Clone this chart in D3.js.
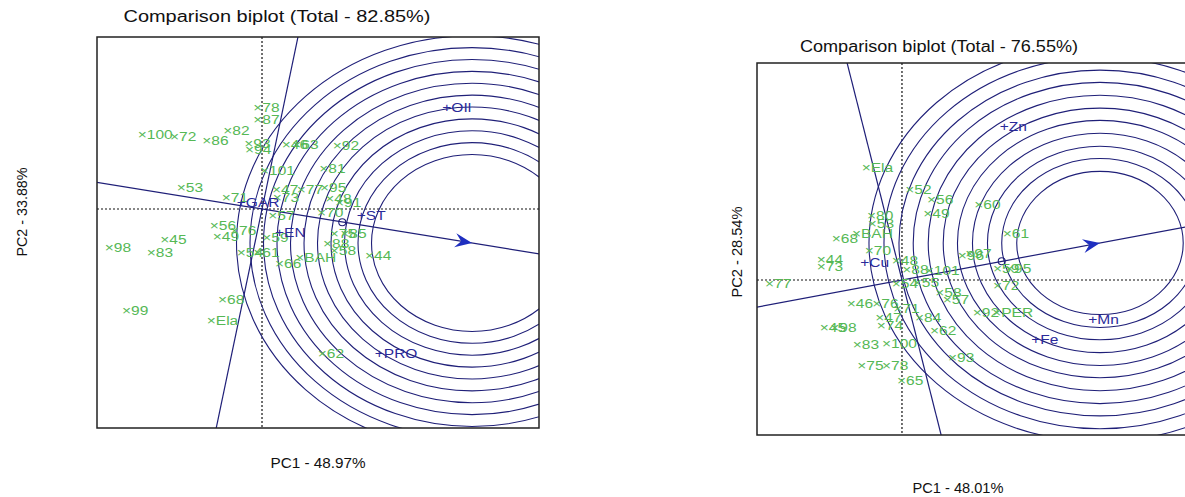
<!DOCTYPE html>
<html>
<head>
<meta charset="utf-8">
<style>
body { margin: 0; background: #fff; }
svg text { font-family: "Liberation Sans", Arial, sans-serif; }
.gen { fill: #55b855; font-size: 13.5px; }
.env { fill: #2a2a9a; font-size: 13.5px; }
.ring { fill: none; stroke: #1f1f78; stroke-width: 1.1; }
.axisline { stroke: #1f1f78; stroke-width: 1.2; }
.dot { stroke: #111; stroke-width: 1.2; stroke-dasharray: 2,2; }
.frame { fill: none; stroke: #222; stroke-width: 1.5; }
.title { font-size: 16px; fill: #111; }
.lab { font-size: 15px; fill: #111; }
</style>
</head>
<body>
<svg width="1185" height="497"></svg>
<script src="https://d3js.org/d3.v7.min.js"></script>
<script>
// ---- left biplot: genotypes [label, PC1, PC2]
var leftGenotypes = [
  ["100", -1.59, 1.14], ["72", -1.16, 1.11], ["86", -0.73, 1.05], ["82", -0.45, 1.20],
  ["78", -0.05, 1.55], ["87", -0.05, 1.36], ["93", -0.17, 1.00], ["94", -0.16, 0.91],
  ["46", 0.33, 0.99], ["63", 0.47, 0.99], ["92", 1.01, 0.97], ["101", 0.04, 0.59],
  ["81", 0.83, 0.62], ["53", -1.07, 0.33], ["71", -0.47, 0.18], ["47", 0.20, 0.30],
  ["77", 0.53, 0.30], ["95", 0.84, 0.33], ["48", 0.91, 0.17], ["91", 1.04, 0.11],
  ["73", 0.21, 0.18], ["57", 0.15, -0.09], ["70", 0.80, -0.05], ["56", -0.63, -0.24],
  ["49", -0.59, -0.41], ["76", -0.36, -0.32], ["45", -1.29, -0.45], ["98", -2.03, -0.58],
  ["83", -1.47, -0.65], ["59", 0.07, -0.42], ["54", -0.27, -0.65], ["61", -0.05, -0.65],
  ["66", 0.24, -0.82], ["BAH", 0.51, -0.73], ["75", 0.97, -0.36], ["85", 1.11, -0.36],
  ["88", 0.88, -0.52], ["58", 0.97, -0.62], ["44", 1.44, -0.70], ["68", -0.52, -1.36],
  ["Ela", -0.67, -1.68], ["99", -1.80, -1.53], ["62", 0.81, -2.18]
];
// ---- left biplot: traits [label, PC1, PC2]
var leftTraits = [
  ["OIl", 2.47, 1.55], ["GAR", -0.27, 0.11], ["ST", 1.33, -0.09],
  ["EN", 0.24, -0.35], ["PRO", 1.57, -2.18]
];
var leftIdeal = [2.80, -0.515];
var leftMean = [1.07, -0.20];
var leftRings = [1.34, 1.52, 1.70, 1.88, 2.06, 2.24, 2.42, 2.60, 2.78, 2.96, 3.14];

// ---- right biplot
var rightGenotypes = [
  ["77", -1.76, -0.05], ["Ela", -0.47, 1.75], ["52", 0.11, 1.41], ["56", 0.40, 1.26],
  ["49", 0.35, 1.04], ["60", 1.03, 1.18], ["61", 1.41, 0.73], ["80", -0.40, 1.01],
  ["53", -0.39, 0.88], ["68", -0.87, 0.65], ["BAH", -0.60, 0.73], ["70", -0.43, 0.47],
  ["44", -1.07, 0.33], ["73", -1.07, 0.22], ["48", -0.07, 0.31], ["88", 0.07, 0.17],
  ["101", 0.37, 0.16], ["96", 0.81, 0.39], ["97", 0.91, 0.42], ["59", 1.28, 0.19],
  ["95", 1.44, 0.19], ["72", 1.28, -0.08], ["54", -0.07, -0.05], ["55", 0.21, -0.03],
  ["58", 0.51, -0.19], ["57", 0.61, -0.30], ["46", -0.67, -0.36], ["76", -0.33, -0.36],
  ["47", -0.29, -0.57], ["71", -0.05, -0.43], ["84", 0.24, -0.57], ["45", -1.03, -0.73],
  ["98", -0.89, -0.73], ["74", -0.27, -0.70], ["62", 0.44, -0.78], ["83", -0.59, -0.99],
  ["100", -0.20, -0.98], ["93", 0.68, -1.19], ["75", -0.53, -1.32], ["78", -0.20, -1.32],
  ["65", 0.00, -1.55], ["92", 1.01, -0.50], ["PER", 1.27, -0.50]
];
var rightTraits = [
  ["Zn", 1.37, 2.39], ["Cu", -0.49, 0.28], ["Mn", 2.55, -0.61], ["Fe", 1.79, -0.92]
];
var rightIdeal = [2.64, 0.574];
var rightMean = [1.33, 0.29];
var rightRings = [1.11, 1.31, 1.50, 1.70, 1.90, 2.09, 2.29, 2.49, 2.68, 2.88, 3.08];

var svg = d3.select("svg");

function drawPanel(p) {
  var x = d3.scaleLinear().domain(p.xDom).range([p.box[0], p.box[2]]);
  var y = d3.scaleLinear().domain(p.yDom).range([p.box[3], p.box[1]]);
  var id = "clip" + p.name;
  svg.append("clipPath").attr("id", id).append("rect")
      .attr("x", p.box[0]).attr("y", p.box[1])
      .attr("width", p.box[2] - p.box[0]).attr("height", p.box[3] - p.box[1]);
  var g = svg.append("g").attr("clip-path", "url(#" + id + ")");

  // origin dotted axes
  g.append("line").attr("class", "dot")
      .attr("x1", x(0)).attr("x2", x(0)).attr("y1", p.box[1]).attr("y2", p.box[3]);
  g.append("line").attr("class", "dot")
      .attr("x1", p.box[0]).attr("x2", p.box[2]).attr("y1", y(0)).attr("y2", y(0));

  // concentric rings round the ideal point
  g.selectAll("ellipse.ring").data(p.rings).enter().append("ellipse")
      .attr("class", "ring")
      .attr("cx", x(p.ideal[0])).attr("cy", y(p.ideal[1]))
      .attr("rx", function(r) { return x(r) - x(0); })
      .attr("ry", function(r) { return y(0) - y(r); });

  // average environment axis and its perpendicular
  var u = p.ideal[0], v = p.ideal[1];
  g.append("line").attr("class", "axisline")
      .attr("x1", x(-10 * u)).attr("y1", y(-10 * v))
      .attr("x2", x(10 * u)).attr("y2", y(10 * v));
  g.append("line").attr("class", "axisline")
      .attr("x1", x(10 * v)).attr("y1", y(-10 * u))
      .attr("x2", x(-10 * v)).attr("y2", y(10 * u));

  var tx = x(u), ty = y(v);
  var ang = Math.atan2(ty - y(0), tx - x(0)) * 180 / Math.PI;
  g.append("path")
      .attr("d", "M0,0 L-17,-7 L-11,0 L-17,7 Z")
      .attr("fill", "#1f2fc0")
      .attr("transform", "translate(" + tx + "," + ty + ") rotate(" + ang + ")");
  g.append("circle")
      .attr("cx", x(p.mean[0])).attr("cy", y(p.mean[1])).attr("r", 3.5)
      .attr("fill", "none").attr("stroke", "#1f1f78").attr("stroke-width", 1.1);

  // genotypes (labels a bit wide, as in the source image)
  g.selectAll("text.gen").data(p.gens).enter().append("text")
      .attr("class", "gen")
      .attr("transform", function(d) {
        return "translate(" + (x(d[1]) - 5) + "," + (y(d[2]) + 5) + ") scale(1.15,1)";
      })
      .text(function(d) { return "\u00d7" + d[0]; });
  // traits
  g.selectAll("text.env").data(p.traits).enter().append("text")
      .attr("class", "env")
      .attr("transform", function(d) {
        return "translate(" + (x(d[1]) - 5) + "," + (y(d[2]) + 5) + ") scale(1.15,1)";
      })
      .text(function(d) { return "+" + d[0]; });

  svg.append("rect").attr("class", "frame")
      .attr("x", p.box[0]).attr("y", p.box[1])
      .attr("width", p.box[2] - p.box[0]).attr("height", p.box[3] - p.box[1]);

  svg.append("text").attr("class", "title")
      .attr("x", p.titleX - p.titleW / 2).attr("y", p.titleY)
      .attr("textLength", p.titleW).attr("lengthAdjust", "spacingAndGlyphs")
      .text(p.title);
  svg.append("text").attr("class", "lab")
      .attr("x", p.xlabX - p.xlabW / 2).attr("y", p.xlabY)
      .attr("textLength", p.xlabW).attr("lengthAdjust", "spacingAndGlyphs")
      .text(p.xlab);
  svg.append("text").attr("class", "lab")
      .attr("transform", "translate(" + p.ylabX + "," + (p.ylabY + p.ylabW / 2) + ") rotate(-90)")
      .attr("textLength", p.ylabW).attr("lengthAdjust", "spacingAndGlyphs")
      .text(p.ylab);
}

drawPanel({
  name: "L", box: [97, 37, 539, 428],
  xDom: [-2.2, 3.693], yDom: [-3.318, 2.606],
  ideal: leftIdeal, mean: leftMean, rings: leftRings,
  gens: leftGenotypes, traits: leftTraits,
  title: "Comparison biplot (Total - 82.85%)", titleX: 277, titleY: 22, titleW: 307,
  xlab: "PC1 - 48.97%", xlabX: 318, xlabY: 468, xlabW: 95,
  ylab: "PC2 - 33.88%", ylabX: 27, ylabY: 212, ylabW: 89
});

drawPanel({
  name: "R", box: [757, 63, 1192, 435],
  xDom: [-1.933, 3.867], yDom: [-2.403, 3.364],
  ideal: rightIdeal, mean: rightMean, rings: rightRings,
  gens: rightGenotypes, traits: rightTraits,
  title: "Comparison biplot (Total - 76.55%)", titleX: 939, titleY: 52, titleW: 278,
  xlab: "PC1 - 48.01%", xlabX: 958, xlabY: 493, xlabW: 91,
  ylab: "PC2 - 28.54%", ylabX: 742, ylabY: 252, ylabW: 91
});
</script>
</body>
</html>
